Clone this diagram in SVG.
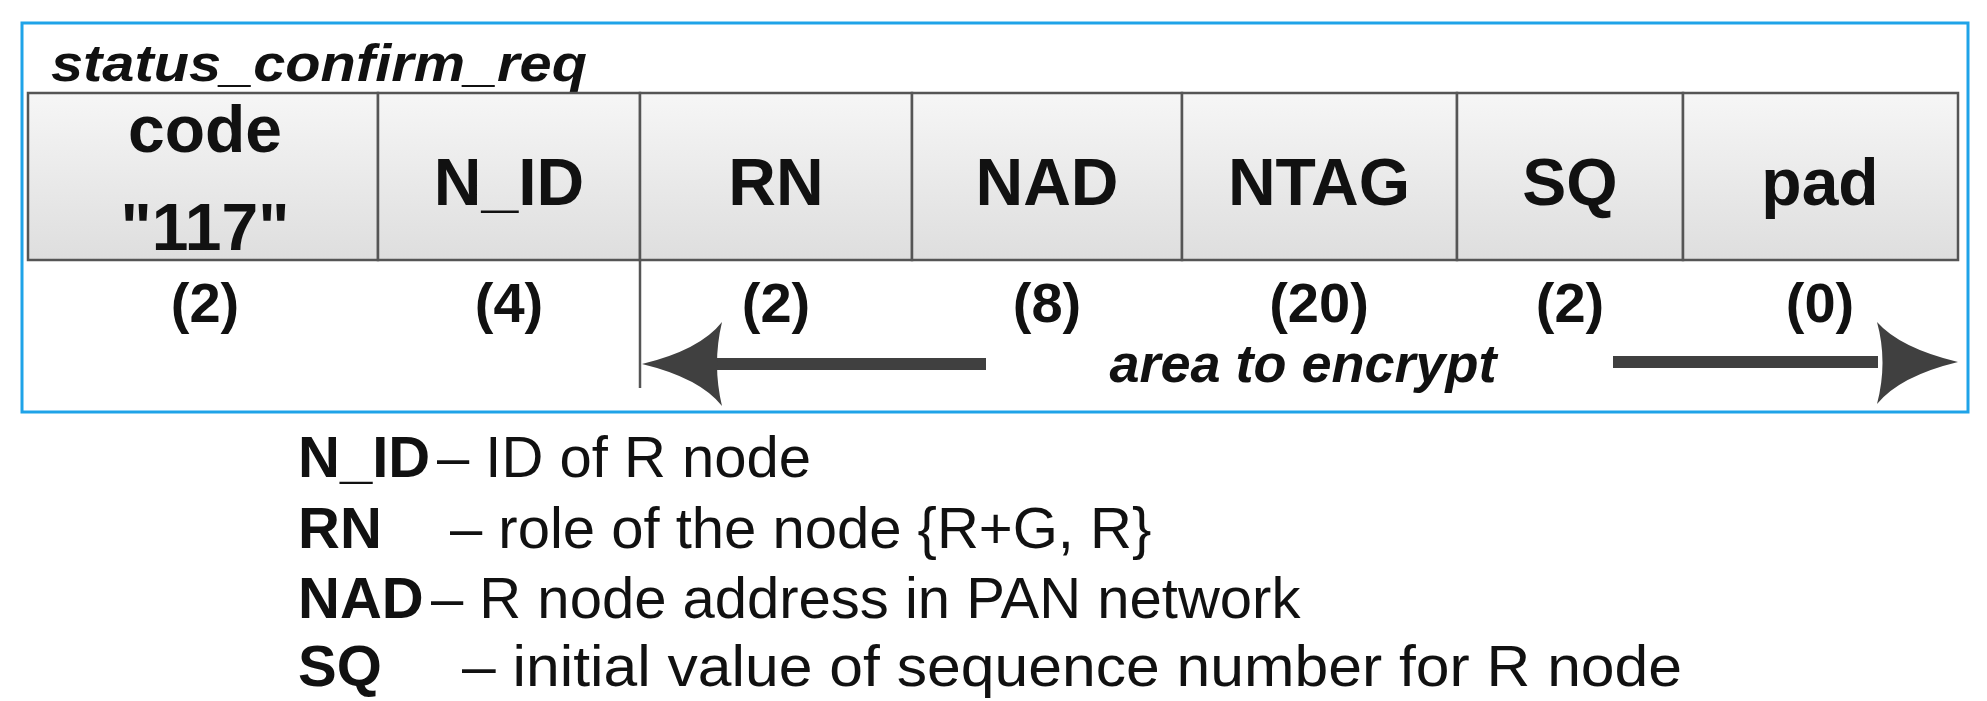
<svg xmlns="http://www.w3.org/2000/svg" width="1987" height="701" viewBox="0 0 1987 701">
<defs>
<linearGradient id="g" x1="0" y1="0" x2="0" y2="1"><stop offset="0" stop-color="#f6f6f6"/><stop offset="1" stop-color="#dedede"/></linearGradient>
<style>
text{font-family:"Liberation Sans",Arial,sans-serif;fill:#111}
.f{font-size:66px;font-weight:bold;text-anchor:middle}
.s{font-size:56px;font-weight:bold;text-anchor:middle}
.l{font-size:58px}
.cell{fill:url(#g);stroke:#555;stroke-width:2.5}
</style>
</defs>
<rect x="22" y="23" width="1946" height="389" fill="#fff" stroke="#1fa3e8" stroke-width="3"/>
<text x="51" y="81" font-size="52" font-weight="bold" font-style="italic" textLength="536" lengthAdjust="spacingAndGlyphs">status_confirm_req</text>
<g id="code"><rect class="cell" x="28" y="93" width="350" height="167"/><text class="f" x="205" y="152">code</text><text class="f" x="205" y="250">"117"</text><text class="s" x="205" y="322">(2)</text></g>
<g id="nid"><rect class="cell" x="378" y="93" width="262" height="167"/><text class="f" x="509" y="205">N_ID</text><text class="s" x="509" y="322">(4)</text></g>
<g id="rn"><rect class="cell" x="640" y="93" width="272" height="167"/><text class="f" x="776" y="205">RN</text><text class="s" x="776" y="322">(2)</text></g>
<g id="nad"><rect class="cell" x="912" y="93" width="270" height="167"/><text class="f" x="1047" y="205">NAD</text><text class="s" x="1047" y="322">(8)</text></g>
<g id="ntag"><rect class="cell" x="1182" y="93" width="275" height="167"/><text class="f" x="1319" y="205">NTAG</text><text class="s" x="1319" y="322">(20)</text></g>
<g id="sq"><rect class="cell" x="1457" y="93" width="226" height="167"/><text class="f" x="1570" y="205">SQ</text><text class="s" x="1570" y="322">(2)</text></g>
<g id="pad"><rect class="cell" x="1683" y="93" width="275" height="167"/><text class="f" x="1820" y="205">pad</text><text class="s" x="1820" y="322">(0)</text></g>
<g id="connectors" fill="#404040">
<line x1="640" y1="260" x2="640" y2="388" stroke="#555" stroke-width="2.5"/>
<rect x="700" y="358" width="286" height="12"/>
<path d="M642,364 Q700,350 722,322 Q712,364 722,406 Q700,378 642,364Z"/>
<rect x="1613" y="356" width="265" height="12"/>
<path d="M1958,362 Q1900,348 1877,322 Q1888,362 1877,404 Q1900,376 1958,362Z"/>
</g>
<text x="1303" y="382" font-size="54" font-weight="bold" font-style="italic" text-anchor="middle">area to encrypt</text>
<g id="legend" class="l">
<text x="298" y="477" class="l"><tspan font-weight="bold">N_ID</tspan><tspan x="437">– ID of R node</tspan></text>
<text x="298" y="548" class="l"><tspan font-weight="bold">RN</tspan><tspan x="450">– role of the node {R+G, R}</tspan></text>
<text x="298" y="618" class="l"><tspan font-weight="bold">NAD</tspan><tspan x="431">– R node address in PAN network</tspan></text>
<text x="298" y="686" class="l"><tspan font-weight="bold">SQ</tspan><tspan x="462" textLength="1220" lengthAdjust="spacingAndGlyphs">– initial value of sequence number for R node</tspan></text>
</g>
</svg>
